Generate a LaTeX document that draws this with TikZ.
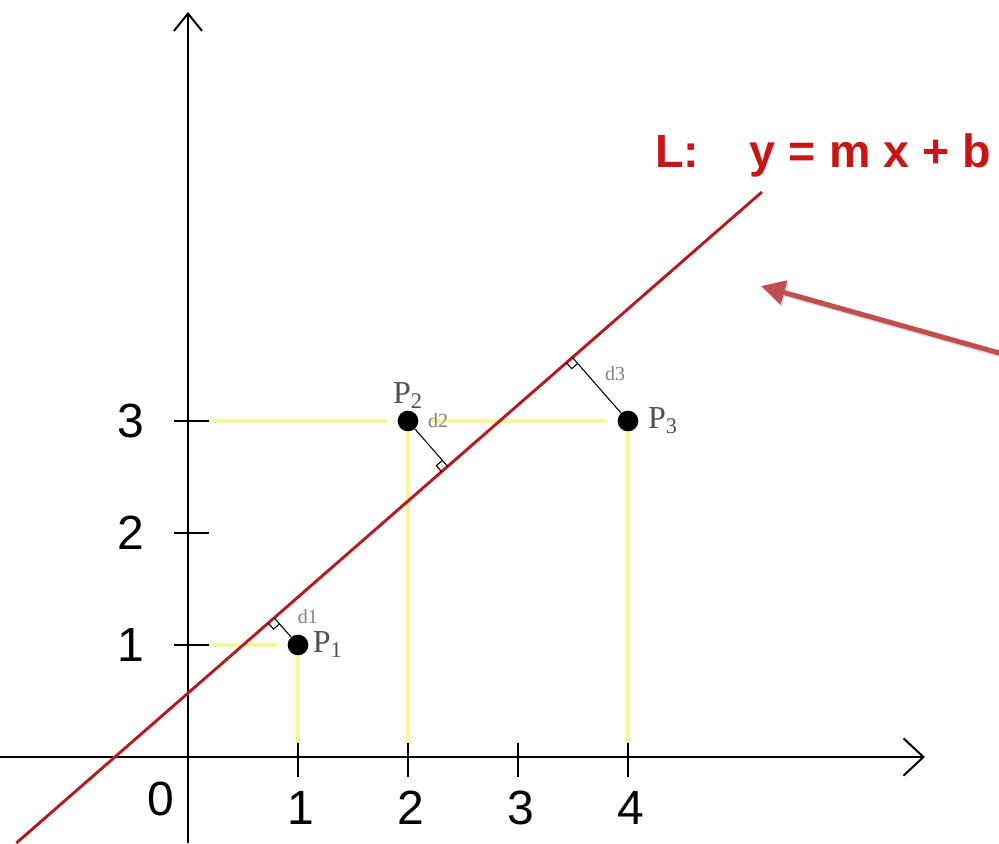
\documentclass[tikz,border=0pt]{standalone}
\usepackage{fontspec}
\setmainfont{Liberation Serif}
\setsansfont{Liberation Sans}
\usepackage{xcolor}
\usepackage{tikz}
\usetikzlibrary{positioning, arrows.meta, calc}

\definecolor{lineRed}{RGB}{178,28,32}
\definecolor{eqRed}{RGB}{200,22,22}
\definecolor{arrowRed}{RGB}{192,80,77}
\definecolor{guideYellow}{RGB}{250,246,150}
\definecolor{labelGray}{RGB}{80,80,80}
\definecolor{distGray}{RGB}{130,130,130}

\tikzset{
  axis/.style={line width=2pt, black},
  tick/.style={line width=1.5pt, black},
  guide/.style={line width=3.5pt, guideYellow},
  lline/.style={line width=2.2pt, lineRed},
  dist/.style={line width=0.8pt, black},
  pointer/.style={line width=3.8pt, arrowRed, -{Triangle[length=18pt, width=18pt]}},
  dot/.style={circle, fill=black, inner sep=0pt, minimum size=15.5pt},
  plabel/.style={font=\fontsize{24}{24}\selectfont, text=labelGray, inner sep=0pt},
  dlabel/.style={font=\fontsize{15}{15}\selectfont, text=distGray, inner sep=0pt},
  numlabel/.style={font=\sffamily\fontsize{36}{36}\selectfont, inner sep=0pt},
  eqlabel/.style={font=\sffamily\bfseries\fontsize{35}{35}\selectfont, text=eqRed, inner sep=0pt}
}

\begin{document}
\begin{tikzpicture}[x=82.5pt, y=84pt]
\useasboundingbox (-1.709,-0.768) rectangle (7.373,6.759);

% Points
\node[dot] (p1) at (1,1) {};
\node[dot] (p2) at (2,3) {};
\node[dot] (p3) at (4,3) {};
\node[plabel, right=3pt of p1] (lab1) {P\textsubscript{1}};
\node[plabel, above=1pt of p2] (lab2) {P\textsubscript{2}};
\node[plabel, right=7pt of p3] (lab3) {P\textsubscript{3}};

% Yellow guides
\draw[guide, shorten >=8pt] (0.22,1) -- (p1);
\draw[guide] (p1) -- (1,0.125);
\draw[guide, shorten >=8pt] (0.22,3) -- (p2);
\draw[guide, shorten <=8pt, shorten >=8pt] (p2) -- (p3);
\draw[guide] (p2) -- (2,0.125);
\draw[guide] (p3) -- (4,0.125);

% Axes
\coordinate (xstart) at (-1.709,0);
\coordinate (xend) at (6.7,0);
\coordinate (ystart) at (0,-0.768);
\coordinate (yend) at (0,6.652);
\draw[axis, -{Straight Barb[length=15pt, width=28pt, line width=1.5pt]}] (xstart) -- (xend);
\draw[axis, -{Straight Barb[length=13pt, width=21pt, line width=1.5pt]}] (ystart) -- (yend);

% Ticks
\foreach \x in {1,...,4} {
  \draw[tick] (\x,0.125) -- (\x,-0.179);
  \node[numlabel] (xl\x) at (\x+0.03,-0.455) {\x};
}
\foreach \y in {1,2,3} {
  \draw[tick] (-0.127,\y) -- (0.191,\y);
  \node[numlabel] (yl\y) at (-0.52,\y) {\y};
}
\node[numlabel] (xl0) at (-0.245,-0.375) {0};

% Line L
\coordinate (lstart) at (-1.56,-0.768);
\coordinate (lend) at (5.218,5.045);
\draw[lline] (lstart) -- (lend);
\node[eqlabel, anchor=base west] (eq) at (4.245,5.259) {L:\hspace{38pt}y = m x + b};

% Distances with right angle marks
\foreach \i in {1,2,3} {
  \coordinate (f\i) at ($(lstart)!(p\i)!(lend)$);
  \draw[dist] (p\i) -- (f\i);
  \coordinate (q\i) at ($(f\i)!6pt!(p\i.center)$);
  \coordinate (r\i) at ($(f\i)!6pt!(lstart)$);
  \draw[dist] (q\i) -- ($(q\i)+(r\i)-(f\i)$) -- (r\i);
}
\node[dlabel] (d1) at (1.091,1.25) {d1};
\node[dlabel] (d2) at (2.273,3.0) {d2};
\node[dlabel] (d3) at (3.882,3.42) {d3};

% Pointer to L
\coordinate (atail) at (7.473,3.58);
\coordinate (atip) at (5.209,4.205);
\draw[pointer, black!25, opacity=0.5, transform canvas={xshift=1pt, yshift=-1.5pt}] (atail) -- (atip);
\draw[pointer] (atail) -- (atip);

\end{tikzpicture}
\end{document}
